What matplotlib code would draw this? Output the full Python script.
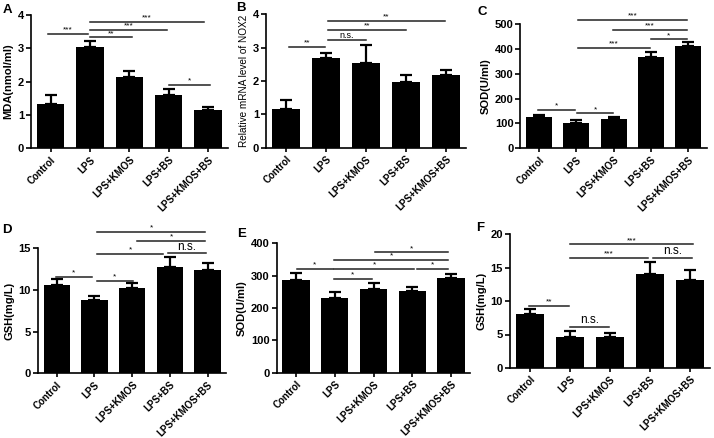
import numpy as np
import matplotlib
matplotlib.use("Agg")
import matplotlib.pyplot as plt

plt.rcParams['font.family'] = ['Liberation Sans', 'DejaVu Sans']

groups = ["Control", "LPS", "LPS+KMOS", "LPS+BS", "LPS+KMOS+BS"]

# panel A - MDA
mda = [1.33, 3.03, 2.13, 1.61, 1.14]
mda_err = [0.26, 0.18, 0.18, 0.18, 0.1]
# panel B - NOX2 mRNA
nox2 = [1.16, 2.69, 2.54, 1.98, 2.19]
nox2_err = [0.27, 0.14, 0.53, 0.19, 0.15]
# panel C - SOD
sod_c = [126, 102, 116, 368, 410]
sod_c_err = [9, 12, 11, 21, 19]
# panel D - GSH
gsh_d = [10.6, 8.8, 10.2, 12.7, 12.45]
gsh_d_err = [0.75, 0.5, 0.6, 1.25, 0.8]
# panel E - SOD
sod_e = [287, 231, 259, 254, 294]
sod_e_err = [21, 18, 19, 12, 12]
# panel F - GSH
gsh_f = [8.05, 4.65, 4.7, 14.05, 13.15]
gsh_f_err = [0.8, 0.8, 0.55, 1.75, 1.55]

# significance brackets: (start, end, height, label)
br_a = [(-0.08, 0.96, 3.43, "***"), (1.0, 2.08, 3.33, "**"), (1.0, 2.95, 3.55, "***"),
        (1.0, 3.9, 3.8, "***"), (3.0, 4.06, 1.9, "*")]
br_b = [(0.07, 0.98, 3.03, "**"), (1.05, 2.0, 3.23, "n.s."), (1.05, 3.0, 3.53, "**"),
        (1.05, 3.98, 3.81, "**")]
br_c = [(-0.03, 0.97, 156, "*"), (1.01, 1.99, 140, "*"), (1.05, 2.98, 404, "***"),
        (1.05, 3.96, 516, "***"), (1.99, 3.96, 476, "***"), (3.0, 3.96, 438, "*")]
br_d = [(-0.03, 0.94, 11.6, "*"), (1.06, 2.03, 11.1, "*"), (1.06, 2.83, 14.3, "*"),
        (1.06, 3.94, 17.0, "*"), (2.14, 3.94, 15.9, "*"), (2.96, 3.95, 14.4, "n.s.")]
br_e = [(0.02, 0.95, 320, "*"), (0.98, 1.95, 290, "*"), (0.98, 3.05, 320, "*"),
        (3.11, 3.93, 320, "*"), (0.98, 3.93, 348, "*"), (2.04, 3.93, 372, "*")]
br_f = [(-0.03, 0.98, 9.3, "**"), (1.0, 1.98, 6.17, "n.s."), (1.0, 2.96, 16.46, "***"),
        (3.07, 4.04, 16.46, "n.s."), (1.0, 4.07, 18.46, "***")]

W, H = 714, 438
fig = plt.figure(figsize=(W / 100, H / 100), dpi=100)


def panel(box, vals, errs, ymax, step, ylabel, brackets, letter, lpos,
          ylab_bold=True, ylab_size=8, ns_size=6.5):
    x0, x1, ytop, ybot = box
    ax = fig.add_axes([x0 / W, 1 - ybot / H, (x1 - x0) / W, (ybot - ytop) / H])
    x = np.arange(len(groups))
    ax.bar(x, vals, width=0.7, color="black", zorder=2)
    ax.errorbar(x, vals, yerr=[np.zeros(len(vals)), errs], fmt="none",
                ecolor="black", elinewidth=1.6, capsize=4.5, capthick=1.6, zorder=3)
    ax.set_xlim(-0.5, 4.5)
    ax.set_ylim(0, ymax)
    ax.set_yticks(np.arange(0, ymax + step / 2, step))
    ax.set_xticks(x)
    ax.set_xticklabels(groups, rotation=45, ha="right", rotation_mode="anchor",
                       fontsize=7, fontweight="bold")
    for t in ax.get_yticklabels():
        t.set_fontweight("bold")
        t.set_fontsize(8)
    ax.spines["top"].set_visible(False)
    ax.spines["right"].set_visible(False)
    ax.spines["left"].set_linewidth(1.2)
    ax.spines["bottom"].set_linewidth(1.2)
    ax.tick_params(axis="y", length=3.5, width=1.2, pad=1.5)
    ax.tick_params(axis="x", length=3, width=1.2, pad=1.5)
    ax.set_ylabel(ylabel, fontsize=ylab_size,
                  fontweight="bold" if ylab_bold else "normal", labelpad=3)
    for s, e, h, lab in brackets:
        ax.plot([s, e], [h, h], color="#222222", lw=1.1, clip_on=False, zorder=4)
        fs = ns_size if lab == "n.s." else 6
        ax.annotate(lab, xy=((s + e) / 2, h), xytext=(0, 0.3), textcoords="offset points",
                    ha="center", va="bottom", fontsize=fs, annotation_clip=False)
    fig.text(lpos[0] / W, 1 - lpos[1] / H, letter, fontsize=9.5, fontweight="bold",
             ha="left", va="top")
    return ax


panel((31, 227.6, 15, 148.3), mda, mda_err, 4, 1, "MDA(nmol/ml)", br_a, "A", (3, 4))
panel((266, 466, 14.3, 147.7), nox2, nox2_err, 4, 1, "Relative mRNA level of NOX2",
      br_b, "B", (236, 2), ylab_bold=False, ylab_size=7.2, ns_size=6.5)
panel((520.4, 706.9, 24, 148.3), sod_c, sod_c_err, 500, 100, "SOD(U/ml)", br_c, "C", (478, 6))
panel((37.9, 226.4, 248.3, 373.3), gsh_d, gsh_d_err, 15, 5, "GSH(mg/L)", br_d, "D",
      (2, 224), ns_size=8.5)
panel((276.6, 470.4, 243.3, 372.7), sod_e, sod_e_err, 400, 100, "SOD(U/ml)", br_e, "E",
      (237, 228))
panel((510, 710, 234, 368), gsh_f, gsh_f_err, 20, 5, "GSH(mg/L)", br_f, "F",
      (476, 222), ns_size=8.5)

fig.savefig("out.png", dpi=100)
